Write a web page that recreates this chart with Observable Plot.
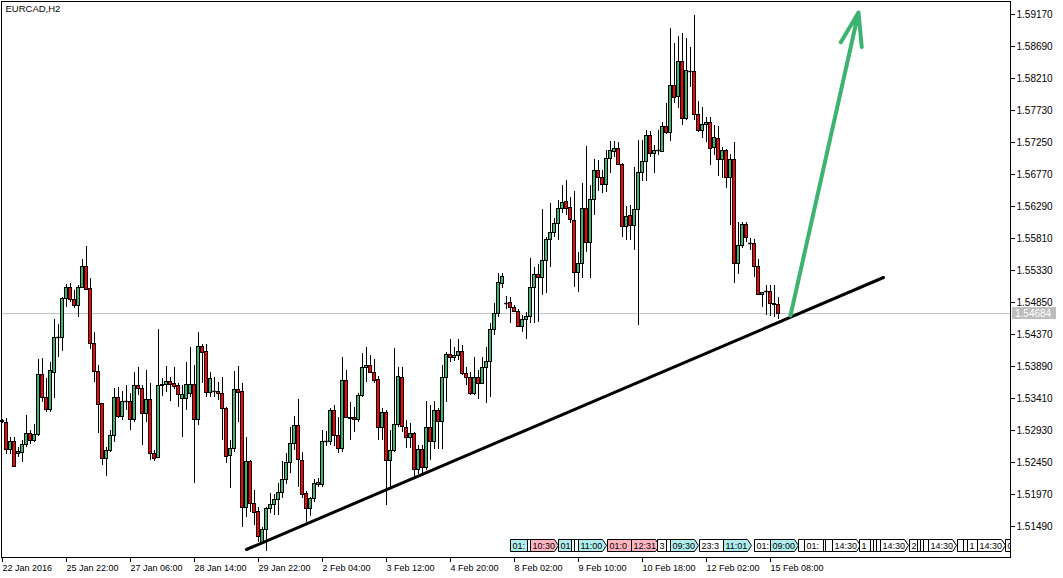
<!DOCTYPE html>
<html><head><meta charset="utf-8">
<script src="https://cdn.jsdelivr.net/npm/d3@7"></script>
<script src="https://cdn.jsdelivr.net/npm/@observablehq/plot@0.6"></script>
<style>
html,body{margin:0;padding:0;background:#fff;}
#chart svg{display:block;}
</style></head><body><div id="chart"></div>
<script>
const symbolTitle = "EURCAD,H2";
const openP = [1.53060,1.53050,1.52645,1.52765,1.52585,1.52600,1.52720,1.52885,1.52780,1.52870,
1.53770,1.53425,1.53245,1.53800,1.54325,1.54325,1.54910,1.55075,1.54895,1.54805,
1.55075,1.55390,1.55060,1.54235,1.53815,1.53335,1.52510,1.52630,1.52855,1.53425,
1.53140,1.53365,1.53365,1.53095,1.53605,1.53560,1.53185,1.53395,1.52585,1.52525,
1.53605,1.53620,1.53665,1.53635,1.53605,1.53410,1.53410,1.53485,1.53620,1.53095,
1.54190,1.54115,1.53500,1.53515,1.53515,1.53485,1.53260,1.52555,1.52660,1.53545,
1.53515,1.51775,1.52465,1.51835,1.51715,1.51250,1.51445,1.51760,1.51820,1.51895,
1.52000,1.52195,1.52450,1.52735,1.53005,1.52480,1.51985,1.51760,1.51910,1.52120,
1.52120,1.52765,1.52765,1.53230,1.52855,1.52660,1.53680,1.53125,1.53125,1.53095,
1.53455,1.53875,1.53905,1.53800,1.53695,1.52975,1.53200,1.52480,1.52630,1.53020,
1.53725,1.52975,1.52825,1.52885,1.52345,1.52645,1.52375,1.52975,1.52765,1.53230,
1.53065,1.53725,1.54070,1.54025,1.54055,1.54115,1.53785,1.53725,1.53485,1.53725,
1.53635,1.53875,1.53965,1.54445,1.54685,1.55135,1.54835,1.54850,1.54775,1.54715,
1.54490,1.54595,1.54640,1.55075,1.55270,1.55225,1.55480,1.55795,1.55900,1.56035,
1.56260,1.56365,1.56275,1.56080,1.55300,1.55435,1.56260,1.55750,1.56395,1.56830,
1.56725,1.56620,1.57010,1.57115,1.57160,1.56920,1.55990,1.56155,1.56005,1.56245,
1.56800,1.56965,1.57355,1.57085,1.57130,1.57115,1.57490,1.57400,1.58105,1.57940,
1.58465,1.57610,1.58315,1.58315,1.57670,1.57430,1.57520,1.57550,1.57175,1.57310,
1.56995,1.57130,1.56725,1.56995,1.55435,1.55705,1.56020,1.55735,1.55735,1.55390,
1.54970,1.55015,1.55015,1.54835,1.54820];
const highP = [1.53095,1.53110,1.52825,1.52825,1.52675,1.52780,1.53155,1.52930,1.53020,1.53995,
1.54010,1.53710,1.53950,1.54595,1.54520,1.54925,1.55120,1.55135,1.55030,1.55105,
1.55495,1.55690,1.55210,1.54400,1.53905,1.53340,1.52675,1.52930,1.53560,1.53575,
1.53515,1.53605,1.53485,1.53800,1.53875,1.53605,1.53830,1.53635,1.52630,1.54445,
1.53710,1.53890,1.53725,1.53875,1.53635,1.53605,1.53950,1.54175,1.53905,1.54400,
1.54220,1.54220,1.53800,1.53725,1.53650,1.53725,1.53275,1.52780,1.53815,1.53890,
1.53635,1.52825,1.52480,1.52030,1.51775,1.51475,1.51775,1.51985,1.51970,1.52135,
1.52465,1.52585,1.52975,1.53140,1.53395,1.52600,1.52015,1.51925,1.52195,1.52210,
1.52930,1.52915,1.53260,1.53305,1.53125,1.54025,1.53830,1.53350,1.53275,1.53485,
1.54085,1.54175,1.54055,1.53995,1.53740,1.53260,1.53230,1.52930,1.54160,1.53875,
1.53875,1.53080,1.53035,1.52900,1.52705,1.52705,1.53365,1.53305,1.53365,1.53260,
1.53905,1.54100,1.54295,1.54175,1.54295,1.54205,1.53875,1.53800,1.54025,1.53830,
1.54025,1.54175,1.54535,1.54835,1.55285,1.55285,1.54940,1.54925,1.54805,1.54745,
1.54655,1.54700,1.55510,1.55375,1.55420,1.56245,1.55825,1.56335,1.56110,1.56380,
1.56605,1.56680,1.56425,1.56515,1.55600,1.56635,1.57190,1.56605,1.56995,1.56980,
1.56830,1.57130,1.57265,1.57265,1.57250,1.56935,1.56290,1.56305,1.56875,1.57280,
1.57280,1.57430,1.57415,1.57205,1.57430,1.57550,1.57835,1.58960,1.58735,1.58840,
1.58885,1.58810,1.58675,1.59155,1.57865,1.57775,1.57625,1.57625,1.57505,1.57490,
1.57175,1.57145,1.57070,1.57250,1.56050,1.56050,1.56050,1.55810,1.55795,1.55495,
1.55000,1.55105,1.55105,1.55105,1.54925];
const lowP = [1.53035,1.52570,1.52570,1.52375,1.52525,1.52450,1.52675,1.52720,1.52750,1.52840,
1.53350,1.53200,1.53200,1.53410,1.54025,1.54115,1.54775,1.54850,1.54760,1.54625,
1.55060,1.55030,1.54145,1.53650,1.52885,1.52405,1.52240,1.52600,1.52750,1.53110,
1.53080,1.53230,1.52930,1.53050,1.53455,1.52705,1.53050,1.52480,1.52465,1.52510,
1.53440,1.53500,1.53365,1.53545,1.53275,1.52825,1.53230,1.53425,1.52135,1.53005,
1.53635,1.53425,1.53425,1.53425,1.53380,1.52780,1.52435,1.52060,1.52600,1.53050,
1.51475,1.51625,1.51700,1.51505,1.51250,1.51235,1.51115,1.51685,1.51655,1.51655,
1.51910,1.52120,1.52285,1.52630,1.52075,1.51910,1.51550,1.51640,1.51850,1.52075,
1.52075,1.52690,1.52705,1.52690,1.52585,1.52600,1.53110,1.52780,1.52900,1.53050,
1.53425,1.53650,1.53785,1.53635,1.52780,1.52780,1.51805,1.52045,1.52600,1.52975,
1.52900,1.52660,1.52660,1.52225,1.52270,1.52255,1.52330,1.52480,1.52645,1.52645,
1.52645,1.53350,1.53950,1.53965,1.53980,1.53755,1.53605,1.53455,1.53455,1.53395,
1.53620,1.53335,1.53425,1.54355,1.54625,1.55060,1.54745,1.54535,1.54700,1.54475,
1.54400,1.54295,1.54535,1.54535,1.54550,1.54955,1.54985,1.55375,1.55825,1.55780,
1.56185,1.56155,1.56035,1.55075,1.55000,1.55210,1.55600,1.55210,1.56155,1.56515,
1.56485,1.56500,1.56785,1.57025,1.56905,1.55825,1.55780,1.55780,1.55630,1.54505,
1.56665,1.56665,1.57025,1.56785,1.57055,1.57100,1.57370,1.57265,1.57835,1.57760,
1.57505,1.57580,1.58075,1.57580,1.57400,1.57310,1.57250,1.56905,1.57055,1.56740,
1.56710,1.56560,1.56005,1.55135,1.55270,1.55660,1.55750,1.55630,1.55225,1.54955,
1.54775,1.54655,1.54640,1.54625,1.54590];
const closeP = [1.53070,1.52645,1.52765,1.52390,1.52615,1.52720,1.52885,1.52780,1.52870,1.53770,
1.53425,1.53245,1.53830,1.54325,1.54325,1.54910,1.55075,1.54895,1.54805,1.55075,
1.55390,1.55045,1.54235,1.53815,1.53320,1.52510,1.52630,1.52855,1.53425,1.53140,
1.53365,1.53365,1.53095,1.53605,1.53560,1.53185,1.53395,1.52585,1.52510,1.53605,
1.53620,1.53665,1.53620,1.53590,1.53470,1.53470,1.53620,1.53620,1.53095,1.54190,
1.54100,1.53500,1.53710,1.53515,1.53485,1.53260,1.52540,1.52660,1.53545,1.53500,
1.51775,1.52465,1.51835,1.51700,1.51340,1.51445,1.51760,1.51820,1.51895,1.52000,
1.52195,1.52450,1.52735,1.53005,1.52495,1.51970,1.51760,1.51910,1.52135,1.52150,
1.52765,1.52765,1.53230,1.52855,1.52660,1.53680,1.53125,1.53110,1.53095,1.53455,
1.53875,1.53905,1.53800,1.53680,1.52975,1.53200,1.52480,1.52630,1.53020,1.53740,
1.52990,1.52825,1.52885,1.52345,1.52645,1.52375,1.52975,1.52765,1.53230,1.53065,
1.53725,1.54070,1.54025,1.54055,1.54115,1.53785,1.53725,1.53485,1.53725,1.53635,
1.53875,1.53965,1.54445,1.54685,1.55150,1.55240,1.54835,1.54775,1.54715,1.54490,
1.54595,1.54640,1.55075,1.55270,1.55225,1.55480,1.55795,1.55900,1.56035,1.56260,
1.56350,1.56260,1.56095,1.55300,1.55435,1.56260,1.55750,1.56395,1.56830,1.56725,
1.56620,1.57010,1.57130,1.57160,1.56920,1.55990,1.56140,1.56005,1.56245,1.56800,
1.56965,1.57355,1.57085,1.57130,1.57130,1.57490,1.57400,1.58105,1.57925,1.58465,
1.57610,1.58330,1.58315,1.57670,1.57430,1.57520,1.57550,1.57160,1.57325,1.56995,
1.57130,1.56725,1.56995,1.55435,1.55705,1.56020,1.55825,1.55735,1.55390,1.54970,
1.55000,1.55015,1.54835,1.54820,1.54684];
const currentPrice = 1.54684;
const priceTicks = [1.51490,1.51970,1.52450,1.52930,1.53410,1.53890,1.54370,1.54850,1.55330,
1.55810,1.56290,1.56770,1.57250,1.57730,1.58210,1.58690,1.59170];
const timeTickBars = [0,16,32,48,64,80,96,112,128,144,160,176,192];
const timeTickLabels = ["22 Jan 2016","25 Jan 22:00","27 Jan 06:00","28 Jan 14:00","29 Jan 22:00",
"2 Feb 04:00","3 Feb 12:00","4 Feb 20:00","8 Feb 02:00","9 Feb 10:00","10 Feb 18:00",
"12 Feb 02:00","15 Feb 08:00"];
// trend line and arrow anchor points (bar index, price)
const trendBars = [61, 220.25];
const trendPrices = [1.51145, 1.55225];
const arrowBars = [197, 214];
const arrowPrices = [1.54655, 1.59200];
// session labels (bar index where the label starts, text, kind)
const sessionBars = [127,131.25,132,139,142.25,143,144,151.25,157.25,163.75,166,167,174.25,180.25,188,192,199,200.5,205.25,205.75,207.5,214.25,217,217.75,218.5,219.5,226.75,228.75,229.5,230.25,231.5,238.75,240.25,241.25,243.75,250.75];
const sessionTexts = ["01:00","01:00","10:30","01:00","01:00","01:00","11:00","01:00","12:31","31","01:00","09:30","23:30","11:01","01:00","09:00","23:30","01:00","01:00","13:00","14:30","13:00","01:00","01:00","01:00","14:30","23:30","01:00","01:00","01:00","14:30","3","01:00","13:00","14:30","00:00"];
const sessionKinds = ["c","w","p","c","w","w","c","p","p","w","w","c","w","c","w","c","w","w","w","w","w","w","w","w","w","w","w","w","w","w","w","w","w","w","w","w"];

const green = "#3cb371", red = "#ff0000";
const bars = openP.map((o, i) => ({i, o, h: highP[i], l: lowP[i], c: closeP[i]}));
const dojis = bars.filter(d => d.o === d.c);
const trend = trendBars.map((b, k) => ({b, p: trendPrices[k]}));
const arrow = [{x1: arrowBars[0], y1: arrowPrices[0], x2: arrowBars[1], y2: arrowPrices[1]}];
const tickLabel = new Map(timeTickBars.map((b, k) => [b, timeTickLabels[k]]));

const font = "'Liberation Sans', Arial, sans-serif";
const plot = Plot.plot({
  width: 1063, height: 578,
  marginLeft: 1, marginRight: 53, marginTop: 1, marginBottom: 21,
  style: {fontFamily: font, fontSize: "9px", background: "#fff", color: "#000", overflow: "visible"},
  x: {type: "linear", domain: [-0.25, 252], axis: null},
  y: {domain: [1.51025, 1.59365], axis: null},
  marks: [
    Plot.ruleY([currentPrice], {stroke: "#c0c0c0", strokeWidth: 1}),
    Plot.ruleX(bars, {x: "i", y1: "l", y2: "h", stroke: "#000", strokeWidth: 1, shapeRendering: "crispEdges"}),
    Plot.rect(bars, {x1: d => d.i - 0.4, x2: d => d.i + 0.4, y1: "o", y2: "c",
      fill: d => d.c >= d.o ? green : red, stroke: "#000", strokeWidth: 1, shapeRendering: "crispEdges"}),
    Plot.ruleY(dojis, {x1: d => d.i - 0.45, x2: d => d.i + 0.45, y: "o", stroke: "#000", strokeWidth: 1.5}),
    Plot.line(trend, {x: "b", y: "p", stroke: "#000", strokeWidth: 3}),
    Plot.arrow(arrow, {x1: "x1", y1: "y1", x2: "x2", y2: "y2", stroke: green, strokeWidth: 4, headLength: 13, headAngle: 36}),
    Plot.axisY({anchor: "right", ticks: priceTicks, tickFormat: d => d.toFixed(5), tickSize: 4, tickPadding: 2, fontSize: 10}),
    Plot.axisX({anchor: "bottom", ticks: timeTickBars, tickFormat: d => tickLabel.get(d), tickSize: 5, tickPadding: 2, textAnchor: "start", fontSize: 9}),
    Plot.frame({stroke: "#000"}),
    Plot.text([symbolTitle], {frameAnchor: "top-left", dx: 4, dy: 4, textAnchor: "start", lineAnchor: "top", fontSize: 9.5, fill: "#000"})
  ]
});
document.getElementById("chart").appendChild(plot);

const svg = d3.select(plot);
const xs = plot.scale("x"), ys = plot.scale("y");
const rightX = xs.apply(252);
// current price label on the price axis
const yCur = ys.apply(currentPrice);
const g = svg.append("g").attr("text-anchor", "start");
g.append("rect").attr("x", rightX + 2).attr("y", yCur - 6).attr("width", 44).attr("height", 12).attr("fill", "#bcbcbc");
g.append("text").attr("x", rightX + 5).attr("y", yCur + 4).attr("fill", "#ffffff").attr("text-anchor", "start")
  .attr("font-size", 10).attr("font-family", font).text(currentPrice.toFixed(5));
// session labels
svg.append("clipPath").attr("id", "sessclip").append("rect")
  .attr("x", 0).attr("y", 0).attr("width", rightX).attr("height", 557);
const fills = {c: "#afeeee", p: "#ffb6c1", w: "#ffffff"};
const sg = svg.append("g").attr("clip-path", "url(#sessclip)").attr("text-anchor", "start");
const boxTop = 539.5, boxH = 12;
const starts = sessionBars.map(b => Math.round(xs.apply(b)) + 0.5);
sessionBars.forEach((b, k) => {
  const x0 = starts[k];
  const x1 = x0 + 28;
  sg.append("path").attr("d", `M${x0},${boxTop}H${x1 - 4}L${x1},${boxTop + boxH / 2}L${x1 - 4},${boxTop + boxH}H${x0}Z`)
    .attr("fill", fills[sessionKinds[k]]).attr("stroke", "#000").attr("stroke-width", 1);
  const next = k + 1 < starts.length ? starts[k + 1] : rightX + 6;
  const avail = Math.min(next, x1 - 2) - x0 - 2.5;
  const t = sg.append("text").attr("x", x0 + 2).attr("y", boxTop + 9).attr("font-size", 9)
    .attr("text-anchor", "start").attr("font-family", font).attr("fill", "#000");
  let s = sessionTexts[k];
  t.text(s);
  while (s.length > 0 && t.node().getComputedTextLength() > avail) {
    s = s.slice(0, -1);
    t.text(s);
  }
  if (s.length === 0) t.remove();
});
</script></body></html>
